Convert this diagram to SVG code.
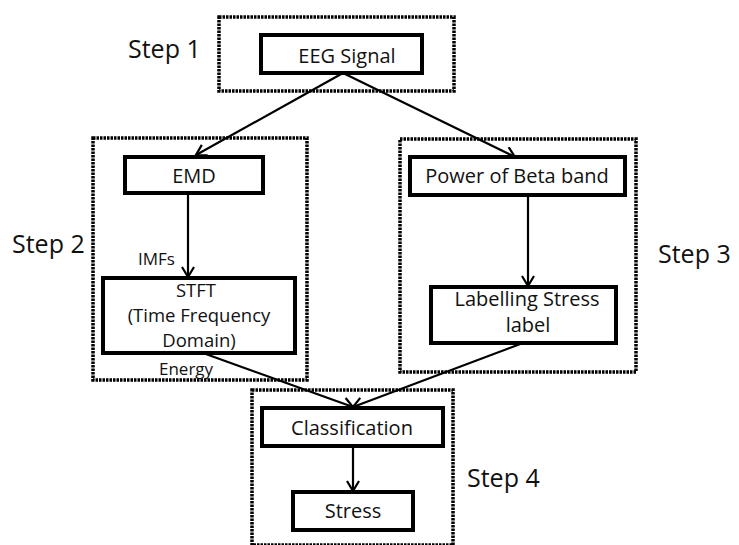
<svg xmlns="http://www.w3.org/2000/svg" width="739" height="545" viewBox="0 0 739 545">
<style>
.step{fill:none;stroke:#000;stroke-width:3.5;stroke-dasharray:2.5 1}
.box{fill:#fff;stroke:#000;stroke-width:4}
.t{font-family:"Open Sans","Liberation Sans",sans-serif;font-size:20px;fill:#111;text-anchor:middle}
.t2{font-family:"Open Sans","Liberation Sans",sans-serif;font-size:18.5px;fill:#111;text-anchor:middle}
.s{font-family:"Open Sans","Liberation Sans",sans-serif;font-size:25px;fill:#111}
.l{font-family:"Open Sans","Liberation Sans",sans-serif;font-size:17px;fill:#111}
.c{stroke:#000;stroke-width:2.2;fill:none;marker-end:url(#ah)}
</style>
<defs>
<marker id="ah" markerWidth="14" markerHeight="14" viewBox="-12 -7 14 14" refX="0" refY="0" orient="auto" markerUnits="userSpaceOnUse">
<path d="M-10,-6 L0,0 L-10,6" fill="none" stroke="#000" stroke-width="2.2"/>
</marker>
</defs>
<rect width="739" height="545" fill="#fff"/>
<g id="step1">
<rect class="step" x="219" y="17" width="235" height="74"/>
<text class="s" x="128" y="58">Step 1</text>
</g>
<g id="step2">
<rect class="step" x="93" y="138" width="214" height="242"/>
<text class="s" x="12" y="253">Step 2</text>
</g>
<g id="step3">
<rect class="step" x="400" y="139" width="236" height="233"/>
<text class="s" x="658" y="263">Step 3</text>
</g>
<g id="step4">
<rect class="step" x="252" y="390" width="201" height="155"/>
<text class="s" x="467" y="487">Step 4</text>
</g>
<g id="connectors">
<line class="c" x1="343" y1="73" x2="196" y2="155"/>
<line class="c" x1="343" y1="73" x2="515" y2="157"/>
<line class="c" x1="188" y1="193" x2="188" y2="277"/>
<line class="c" x1="528" y1="195" x2="528" y2="286"/>
<line class="c" x1="203" y1="353" x2="353" y2="407"/>
<line class="c" x1="523" y1="343" x2="353" y2="407"/>
<line class="c" x1="353" y1="446" x2="353" y2="491"/>
<text class="l" x="138" y="265">IMFs</text>
<text class="l" x="159" y="375">Energy</text>
</g>
<g id="eeg">
<rect class="box" x="261" y="35" width="161" height="38"/>
<text class="t" x="347" y="63">EEG Signal</text>
</g>
<g id="emd">
<rect class="box" x="125" y="157" width="138" height="36"/>
<text class="t" x="194" y="183">EMD</text>
</g>
<g id="stft">
<rect class="box" x="103" y="278" width="192" height="75"/>
<text class="t2" x="196" y="297">STFT</text>
<text class="t2" x="199" y="322">(Time Frequency</text>
<text class="t2" x="199" y="347">Domain)</text>
</g>
<g id="power">
<rect class="box" x="410" y="157" width="215" height="38"/>
<text class="t" x="517" y="183">Power of Beta band</text>
</g>
<g id="labelling">
<rect class="box" x="431" y="287" width="185" height="56"/>
<text class="t" x="527" y="306">Labelling Stress</text>
<text class="t" x="528" y="332">label</text>
</g>
<g id="classification">
<rect class="box" x="262" y="408" width="181" height="38"/>
<text class="t" x="352" y="435">Classification</text>
</g>
<g id="stress">
<rect class="box" x="293" y="492" width="120" height="38"/>
<text class="t" x="353" y="518">Stress</text>
</g>
</svg>
